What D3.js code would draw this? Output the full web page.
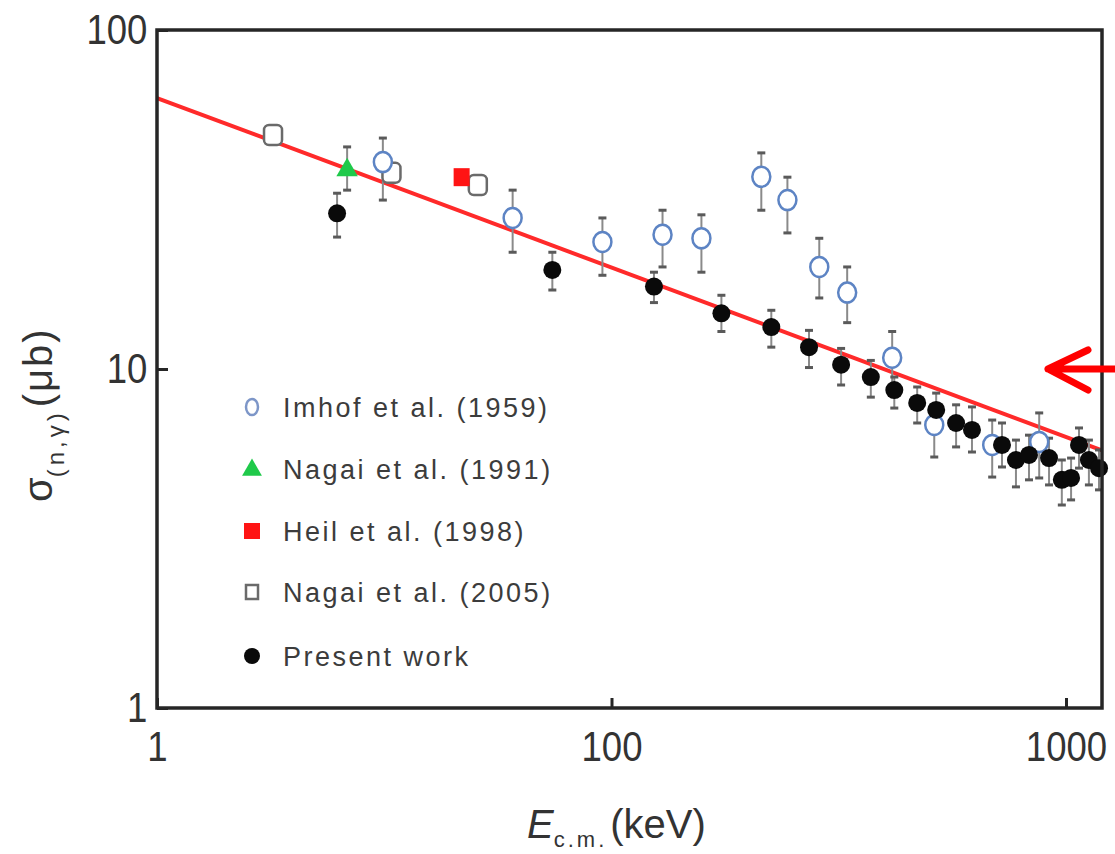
<!DOCTYPE html>
<html>
<head>
<meta charset="utf-8">
<script src="https://cdn.jsdelivr.net/npm/d3@7/dist/d3.min.js"></script>
<style>
  html, body { margin: 0; padding: 0; background: #fff; }
  svg { display: block; font-family: "Liberation Sans", Arial, sans-serif; }
</style>
</head>
<body>
<svg id="chart" width="1115" height="854"></svg>
<script>
// Neutron capture cross section vs. centre-of-mass energy (log-log)

// Axis ticks
const xTickValues = [10, 100, 1000];
const xTickLabels = ["1", "100", "1000"];
const yTickValues = [1, 10, 100];
const yTickLabels = ["1", "10", "100"];

// Imhof et al. (1959): energy (keV), cross section (μb), error-bar bounds
const imhofE     = [31.4, 60.6, 95.5, 129.5, 157.7, 213.6, 243.8, 286.5, 330, 414.5, 513, 688, 873];
const imhofSigma = [40.8, 27.9, 23.7, 24.9, 24.3, 36.9, 31.5, 20.0, 16.8, 10.8, 6.84, 5.97, 6.09];
const imhofLo    = [31.5, 22.1, 18.9, 20.0, 19.3, 29.4, 25.2, 16.2, 13.7, 8.67, 5.50, 4.80, 4.77];
const imhofHi    = [48.0, 33.7, 27.9, 29.4, 28.5, 43.4, 36.8, 24.3, 20.0, 12.9, 7.84, 7.07, 7.42];

// Nagai et al. (1991)
const nagai91E     = [26.2];
const nagai91Sigma = [38.6];
const nagai91Lo    = [33.7];
const nagai91Hi    = [45.2];

// Heil et al. (1998)
const heilE     = [46.8];
const heilSigma = [36.8];

// Nagai et al. (2005)
const nagai05E     = [18.0, 32.8, 50.8];
const nagai05Sigma = [49.0, 37.9, 34.9];
const nagai05Lo    = [46.0, 35.5, 32.8];
const nagai05Hi    = [52.0, 40.0, 36.5];

// Present work
const presentE     = [24.9, 74.1, 124, 174.5, 224.7, 272, 320, 372, 419, 470.5, 518, 573, 621, 723, 776, 829, 917.6, 979, 1026, 1068, 1123, 1182];
const presentSigma = [28.8, 19.6, 17.5, 14.6, 13.3, 11.6, 10.3, 9.47, 8.67, 7.94, 7.57, 6.93, 6.61, 5.97, 5.39, 5.58, 5.46, 4.71, 4.77, 5.97, 5.39, 5.10];
const presentLo    = [24.5, 17.1, 15.7, 12.9, 11.6, 10.1, 8.97, 8.26, 7.67, 6.93, 6.61, 5.89, 5.69, 5.14, 4.49, 4.71, 4.55, 3.97, 4.11, 5.10, 4.55, 4.40];
const presentHi    = [33.0, 22.1, 19.3, 16.5, 14.9, 13.0, 11.5, 10.6, 9.47, 8.85, 8.49, 7.84, 7.73, 6.93, 6.17, 6.38, 6.25, 5.39, 5.46, 6.70, 6.17, 5.77];

// 1/v reference line (end points)
const fitE     = [10, 1200];
const fitSigma = [63, 5.75];

// Legend entries
const legendLabels = ["Imhof et al. (1959)", "Nagai et al. (1991)", "Heil et al. (1998)", "Nagai et al. (2005)", "Present work"];

// ---------------------------------------------------------------
const svg = d3.select("#chart");
const plot = { left: 157, top: 30, right: 1102, bottom: 708 };

const x = d3.scaleLog().domain([10, 1200]).range([plot.left, plot.right]);
const y = d3.scaleLog().domain([1, 100]).range([plot.bottom, plot.top]);

const ink = "#262626";
const labelInk = "#333";

// Reference line
svg.append("path")
  .datum(fitE.map((e, i) => [e, fitSigma[i]]))
  .attr("d", d3.line().x(d => x(d[0])).y(d => y(d[1])))
  .attr("fill", "none")
  .attr("stroke", "#ff2a2a")
  .attr("stroke-width", 4);

// Error bars
function errorBars(E, lo, hi) {
  const g = svg.append("g");
  const rows = E.map((e, i) => ({ e, lo: lo[i], hi: hi[i] }));
  g.selectAll("line.bar").data(rows).join("line")
    .attr("x1", d => x(d.e)).attr("x2", d => x(d.e))
    .attr("y1", d => y(d.lo)).attr("y2", d => y(d.hi))
    .attr("stroke", "#8a8a8a").attr("stroke-width", 2);
  ["lo", "hi"].forEach(k => {
    g.selectAll("line.cap" + k).data(rows).join("line")
      .attr("x1", d => x(d.e) - 4).attr("x2", d => x(d.e) + 4)
      .attr("y1", d => y(d[k])).attr("y2", d => y(d[k]))
      .attr("stroke", "#5a5a5a").attr("stroke-width", 3);
  });
}
errorBars(imhofE, imhofLo, imhofHi);
errorBars(nagai91E, nagai91Lo, nagai91Hi);
errorBars(nagai05E, nagai05Lo, nagai05Hi);
errorBars(presentE, presentLo, presentHi);

// Markers
const pts = (E, S) => E.map((e, i) => ({ e, s: S[i] }));

svg.append("g").selectAll("rect").data(pts(nagai05E, nagai05Sigma)).join("rect")
  .attr("x", d => x(d.e) - 9).attr("y", d => y(d.s) - 10)
  .attr("width", 18).attr("height", 20).attr("rx", 5)
  .attr("fill", "#fff").attr("stroke", "#6a6a6a").attr("stroke-width", 2.5);

svg.append("g").selectAll("ellipse").data(pts(imhofE, imhofSigma)).join("ellipse")
  .attr("cx", d => x(d.e)).attr("cy", d => y(d.s))
  .attr("rx", 9).attr("ry", 10)
  .attr("fill", "#fff").attr("stroke", "#5d84c4").attr("stroke-width", 2.5);

const tri = d3.symbol().type(d3.symbolTriangle).size(200);
svg.append("g").selectAll("path").data(pts(nagai91E, nagai91Sigma)).join("path")
  .attr("transform", d => `translate(${x(d.e)},${y(d.s)})`)
  .attr("d", tri).attr("fill", "#1fc94a");

svg.append("g").selectAll("rect").data(pts(heilE, heilSigma)).join("rect")
  .attr("x", d => x(d.e) - 8).attr("y", d => y(d.s) - 9)
  .attr("width", 16).attr("height", 18)
  .attr("fill", "#ff1414");

svg.append("g").selectAll("circle").data(pts(presentE, presentSigma)).join("circle")
  .attr("cx", d => x(d.e)).attr("cy", d => y(d.s)).attr("r", 9)
  .attr("fill", "#0a0a0a");

// Axes
const xAxis = svg.append("g")
  .attr("transform", `translate(0,${plot.bottom})`)
  .call(d3.axisBottom(x).tickValues(xTickValues)
    .tickFormat((d, i) => xTickLabels[i])
    .tickSizeInner(-10).tickSizeOuter(0).tickPadding(23));

const yAxis = svg.append("g")
  .attr("transform", `translate(${plot.left},0)`)
  .call(d3.axisLeft(y).tickValues(yTickValues)
    .tickFormat((d, i) => yTickLabels[i])
    .tickSizeInner(-11).tickSizeOuter(0).tickPadding(11));

[xAxis, yAxis].forEach(a => {
  a.select(".domain").remove();
  a.selectAll(".tick line").attr("stroke", ink).attr("stroke-width", 3);
  a.selectAll(".tick text")
    .attr("fill", labelInk)
    .style("font-size", "42px")
    .style("font-family", "'Liberation Sans', Arial, sans-serif")
    .attr("transform", "scale(0.87,1)");
});

// Frame
svg.append("rect")
  .attr("x", plot.left).attr("y", plot.top)
  .attr("width", plot.right - plot.left).attr("height", plot.bottom - plot.top)
  .attr("fill", "none").attr("stroke", ink).attr("stroke-width", 3.5);

// Axis titles
const xt = svg.append("text")
  .attr("x", 527).attr("y", 838)
  .attr("fill", labelInk).style("font-size", "40px");
xt.append("tspan").style("font-style", "italic").text("E");
xt.append("tspan").attr("dy", 9).style("font-size", "22px").attr("letter-spacing", 3).text("c.m.");
xt.append("tspan").attr("dy", -9).attr("dx", 3).text("(keV)");

const yt = svg.append("text")
  .attr("transform", "translate(52,502) rotate(-90)")
  .attr("fill", labelInk).style("font-size", "40px");
yt.append("tspan").text("σ");
yt.append("tspan").attr("dy", 12).style("font-size", "24px").attr("letter-spacing", 4).text("(n,γ)");
yt.append("tspan").attr("dy", -12).attr("dx", 2).attr("letter-spacing", 2).text("(μb)");

// Legend
const legend = svg.append("g");
const legendY = [407, 469, 531, 592, 656];
const lx = 252;
legend.append("ellipse").attr("cx", lx).attr("cy", legendY[0]).attr("rx", 6).attr("ry", 8)
  .attr("fill", "#fff").attr("stroke", "#7d96c8").attr("stroke-width", 2.5);
legend.append("path").attr("transform", `translate(${lx},${legendY[1] + 1})`)
  .attr("d", d3.symbol().type(d3.symbolTriangle).size(170)).attr("fill", "#1fc94a");
legend.append("rect").attr("x", lx - 8).attr("y", legendY[2] - 8).attr("width", 16).attr("height", 16)
  .attr("fill", "#ff1414");
legend.append("rect").attr("x", lx - 6).attr("y", legendY[3] - 7).attr("width", 12).attr("height", 14)
  .attr("fill", "#fff").attr("stroke", "#6a6a6a").attr("stroke-width", 2.5);
legend.append("circle").attr("cx", lx).attr("cy", legendY[4]).attr("r", 8).attr("fill", "#0a0a0a");

legend.selectAll("text").data(legendLabels).join("text")
  .attr("x", 283).attr("y", (d, i) => legendY[i])
  .attr("dy", "0.36em")
  .attr("fill", "#3c3c3c")
  .attr("letter-spacing", 2.5)
  .style("font-size", "27px")
  .text(d => d);

// Annotation arrow pointing at the 10 μb level
const tipX = plot.right - 54, tipY = y(10);
svg.append("path")
  .attr("d", `M1125,${tipY} L${tipX},${tipY} M${tipX + 40},${tipY - 19} L${tipX},${tipY} L${tipX + 40},${tipY + 21}`)
  .attr("fill", "none").attr("stroke", "#ff0000").attr("stroke-width", 7)
  .attr("stroke-linecap", "round").attr("stroke-linejoin", "round");
</script>
</body>
</html>
